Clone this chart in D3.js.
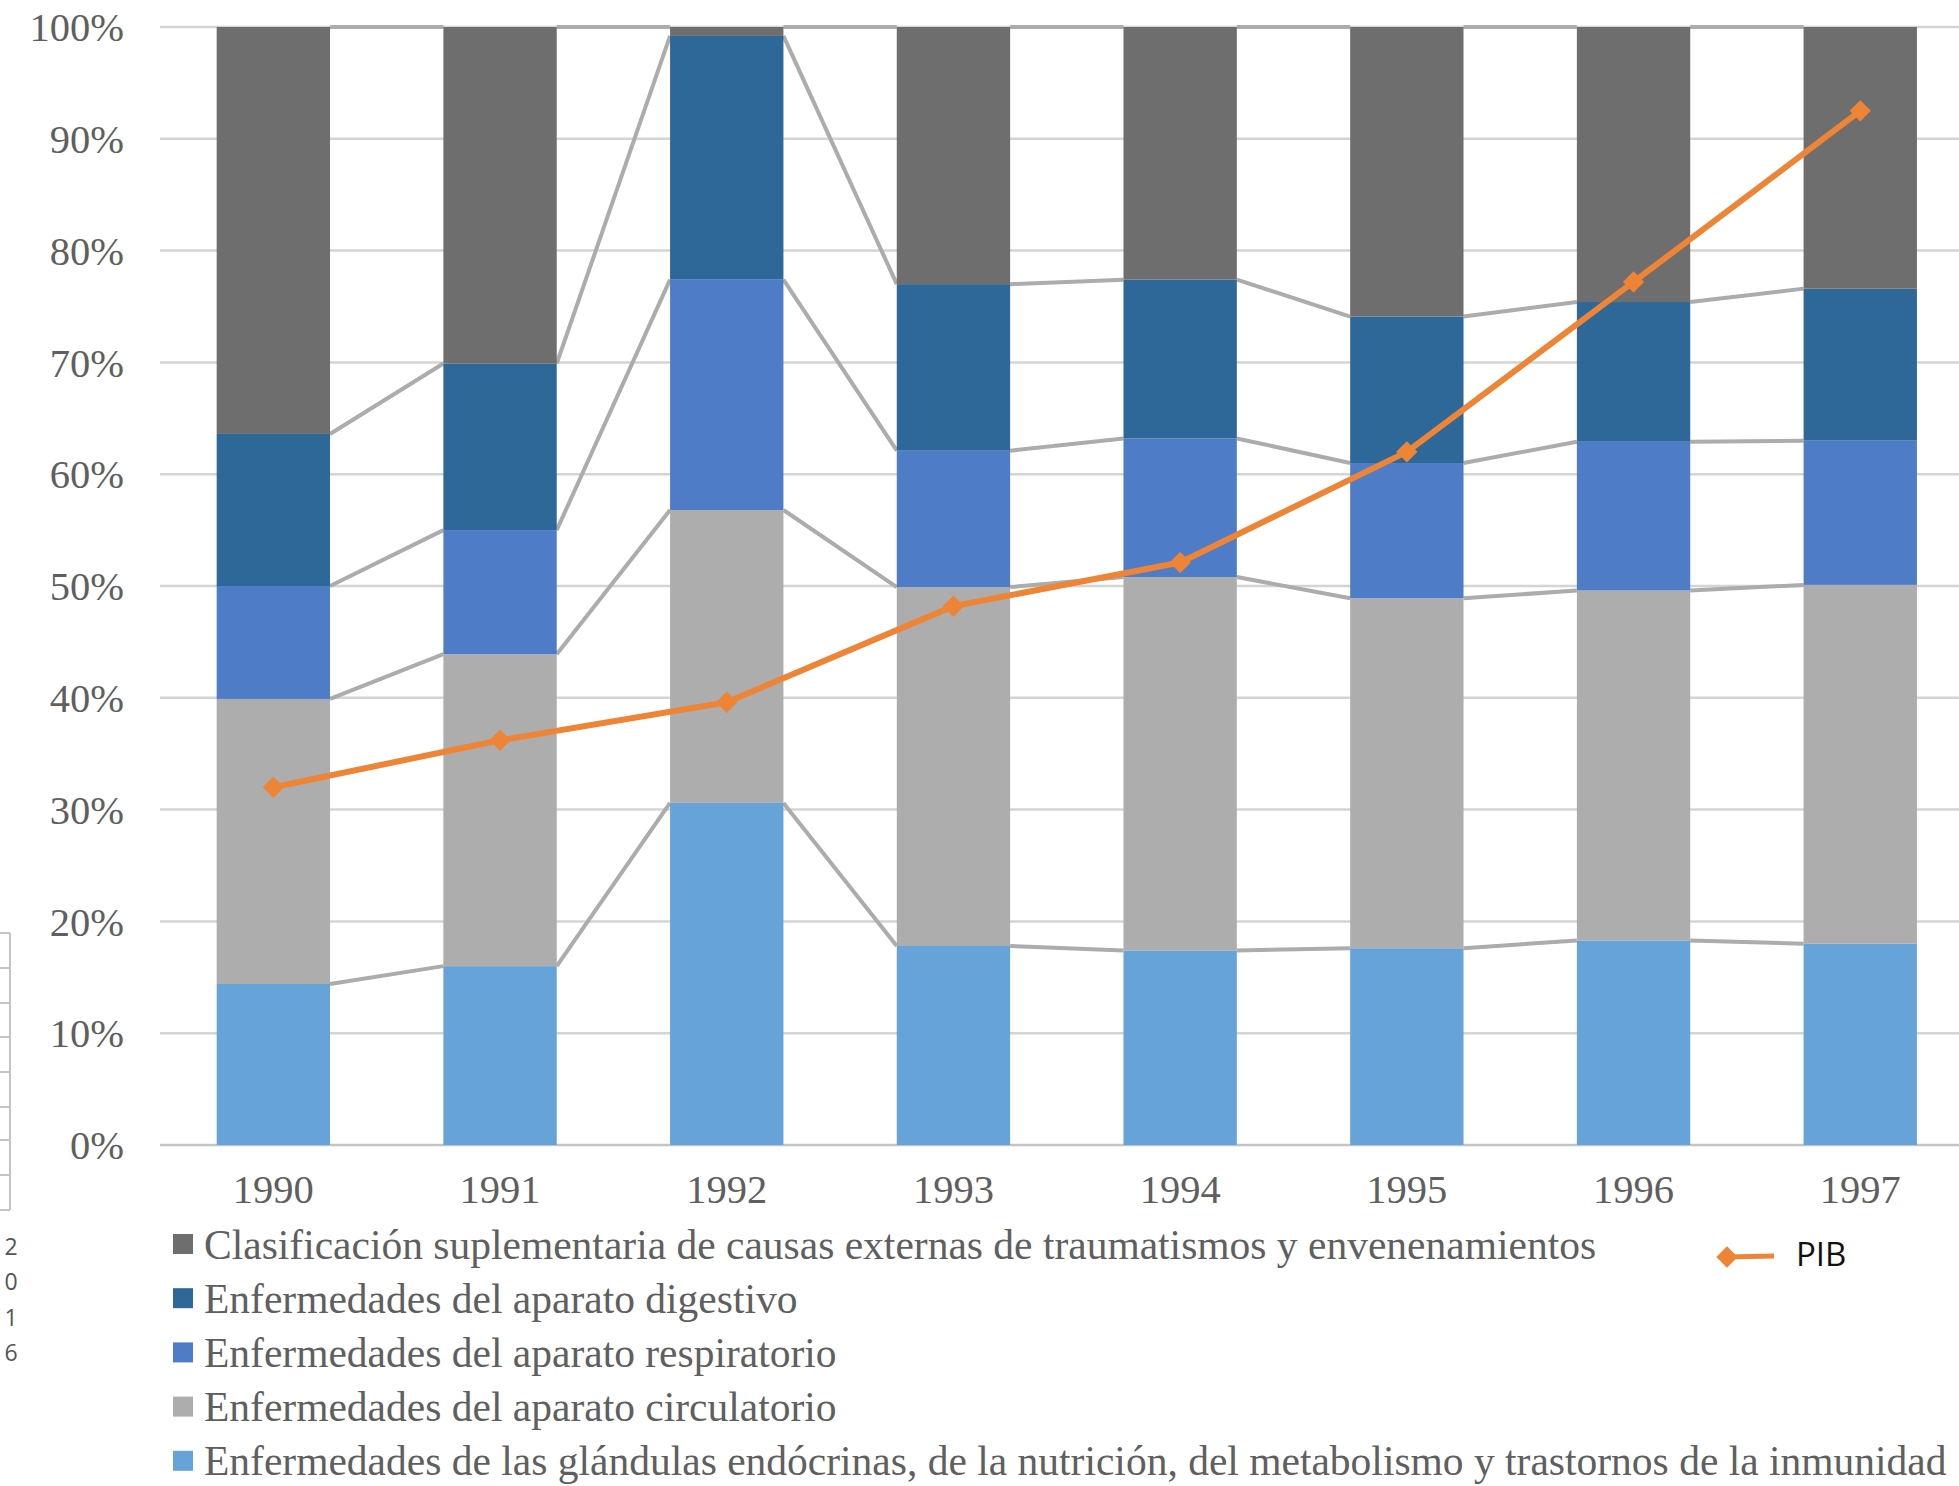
<!DOCTYPE html>
<html><head><meta charset="utf-8">
<script src="https://cdn.jsdelivr.net/npm/d3@7"></script>
<style>body{margin:0;background:#fff}svg{display:block}</style>
</head><body>
<script>
const years = ['1990','1991','1992','1993','1994','1995','1996','1997'];
const endocrinas   = [14.4,16.0,30.6,17.8,17.4,17.6,18.3,18.0];
const circulatorio = [25.5,27.9,26.2,32.1,33.4,31.3,31.3,32.1];
const respiratorio = [10.1,11.1,20.6,12.2,12.4,12.1,13.3,12.9];
const digestivo    = [13.6,14.9,21.8,14.9,14.2,13.1,12.5,13.6];
const externas     = [36.4,30.1,0.8,23.0,22.6,25.9,24.6,23.4];
const pib          = [32.0,36.2,39.6,48.2,52.1,62.0,77.2,92.5];
const yTicks = [0,10,20,30,40,50,60,70,80,90,100];
const seriesNames = [
  'Enfermedades de las glándulas endócrinas, de la nutrición, del metabolismo y trastornos de la inmunidad',
  'Enfermedades del aparato circulatorio',
  'Enfermedades del aparato respiratorio',
  'Enfermedades del aparato digestivo',
  'Clasificación suplementaria de causas externas de traumatismos y envenenamientos'
];
const seriesColors = ['#66a3d8','#adadad','#4f7cc7','#2e6898','#6e6e6e'];
const seriesValues = [endocrinas, circulatorio, respiratorio, digestivo, externas];
const pibName = 'PIB';
const pibColor = '#ee8536';

const W = 1959, H = 1486;
const svg = d3.select('body').append('svg').attr('width', W).attr('height', H);
const serif = '"Liberation Serif","Times New Roman",serif';
const textColor = '#5f5f5f';

const x = d3.scaleBand().domain(years).range([160, 1973.6]).paddingInner(0.5).paddingOuter(0.25);
const y = d3.scaleLinear().domain([0, 100]).range([1145, 27]);

// gridlines
svg.append('g').selectAll('line').data(yTicks).join('line')
  .attr('x1', 160).attr('x2', W).attr('y1', d => y(d)).attr('y2', d => y(d))
  .attr('stroke', d => d === 0 ? '#c4c4c4' : '#d4d4d4').attr('stroke-width', 2.5);

// y axis labels
svg.append('g').selectAll('text').data(yTicks).join('text')
  .attr('x', 124).attr('y', d => y(d)).attr('dy', '0.35em')
  .attr('text-anchor', 'end').attr('font-family', serif).attr('font-size', 40.5)
  .attr('fill', textColor).text(d => d + '%');

// x labels
svg.append('g').selectAll('text').data(years).join('text')
  .attr('x', d => x(d) + x.bandwidth() / 2).attr('y', 1203)
  .attr('text-anchor', 'middle').attr('font-family', serif).attr('font-size', 40.5)
  .attr('fill', textColor).text(d => d);

// stack
const table = years.map((yr, i) => {
  const o = {year: yr};
  seriesValues.forEach((s, k) => o['s' + k] = s[i]);
  return o;
});
const stack = d3.stack().keys(seriesValues.map((_, k) => 's' + k))(table);

// series lines
const sl = svg.append('g');
stack.forEach(layer => {
  for (let i = 0; i < years.length - 1; i++) {
    sl.append('line')
      .attr('x1', x(years[i]) + x.bandwidth()).attr('y1', y(layer[i][1]))
      .attr('x2', x(years[i + 1])).attr('y2', y(layer[i + 1][1]))
      .attr('stroke', '#acacac').attr('stroke-width', 4);
  }
});

// bars
svg.append('g').selectAll('g').data(stack).join('g')
  .attr('fill', (d, k) => seriesColors[k])
  .selectAll('rect').data(d => d).join('rect')
  .attr('x', d => x(d.data.year)).attr('width', x.bandwidth())
  .attr('y', d => y(d[1])).attr('height', d => y(d[0]) - y(d[1]));

// PIB line
const line = d3.line().x((d, i) => x(years[i]) + x.bandwidth() / 2).y(d => y(d));
svg.append('path').datum(pib).attr('d', line).attr('fill', 'none')
  .attr('stroke', pibColor).attr('stroke-width', 6).attr('stroke-linejoin', 'round');
const diamond = d3.symbol().type(d3.symbolDiamond2).size(290);
svg.append('g').selectAll('path').data(pib).join('path')
  .attr('d', diamond)
  .attr('transform', (d, i) => `translate(${x(years[i]) + x.bandwidth() / 2},${y(d)})`)
  .attr('fill', pibColor);

// legend
const legendOrder = [4, 3, 2, 1, 0];
const lg = svg.append('g');
legendOrder.forEach((k, r) => {
  const cy = 1244 + r * 54.2;
  lg.append('rect').attr('x', 173).attr('y', cy - 10).attr('width', 20).attr('height', 20).attr('fill', seriesColors[k]);
  lg.append('text').attr('x', 204).attr('y', cy).attr('dy', '0.35em')
    .attr('font-family', serif).attr('font-size', 41.5).attr('fill', textColor).text(seriesNames[k]);
});
lg.append('line').attr('x1', 1727).attr('x2', 1774).attr('y1', 1257).attr('y2', 1256)
  .attr('stroke', pibColor).attr('stroke-width', 5);
lg.append('path').attr('d', diamond).attr('transform', 'translate(1727,1257)').attr('fill', pibColor);
lg.append('text').attr('x', 1796).attr('y', 1254).attr('dy', '0.36em')
  .attr('font-family', '"Open Sans",sans-serif').attr('font-size', 33).attr('fill', '#111').text(pibName);

// left-edge artifact (cropped table)
const art = svg.append('g');
const cellY = [933, 968, 1003, 1037, 1072, 1107, 1140, 1175, 1210];
art.append('line').attr('x1', 10).attr('x2', 10).attr('y1', cellY[0]).attr('y2', cellY[cellY.length - 1])
  .attr('stroke', '#c4c4c4').attr('stroke-width', 2);
art.selectAll('line.h').data(cellY).join('line').attr('class', 'h')
  .attr('x1', 0).attr('x2', 10).attr('y1', d => d).attr('y2', d => d)
  .attr('stroke', '#c4c4c4').attr('stroke-width', 2);
art.selectAll('text').data(['2', '0', '1', '6']).join('text')
  .attr('x', 11).attr('y', (d, i) => 1247 + i * 35.3).attr('dy', '0.35em')
  .attr('text-anchor', 'middle').attr('font-family', '"Open Sans",sans-serif').attr('font-size', 23)
  .attr('fill', '#555').text(d => d);
</script>
</body></html>
